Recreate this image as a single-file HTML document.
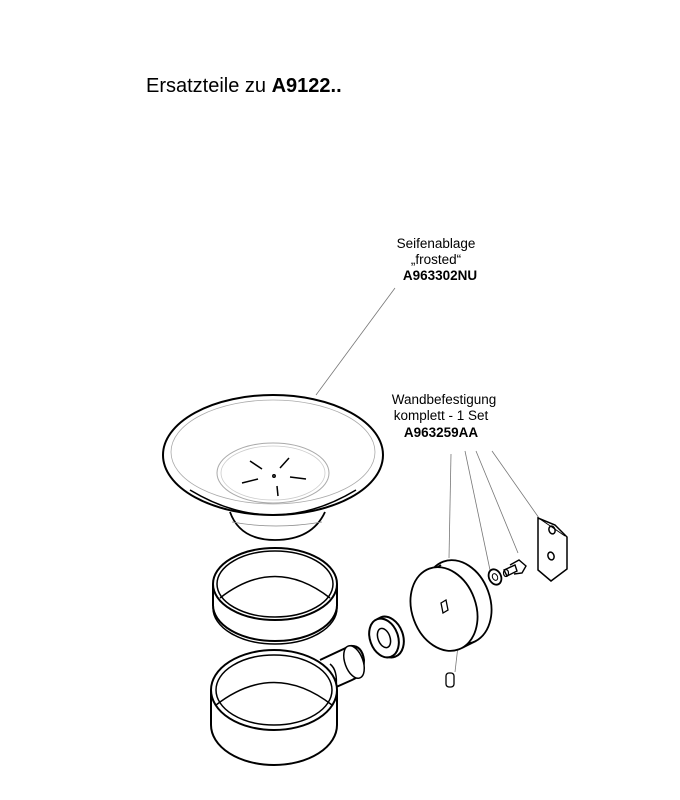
<!DOCTYPE html>
<html><head><meta charset="utf-8"><style>
body{margin:0;background:#fff;width:680px;height:800px;overflow:hidden}
svg{display:block}
text{font-family:"Liberation Sans",sans-serif;fill:#000}
</style></head><body>
<svg width="680" height="800" viewBox="0 0 680 800" xmlns="http://www.w3.org/2000/svg">
<text x="146" y="92" font-size="20">Ersatzteile zu  <tspan font-weight="bold">A9122..</tspan></text>
<g font-size="13.5" text-anchor="middle">
<text x="436" y="248">Seifenablage</text>
<text x="436" y="264">„frosted“</text>
<text x="440" y="280" font-weight="bold">A963302NU</text>
<text x="444" y="404">Wandbefestigung</text>
<text x="441" y="420">komplett  - 1 Set</text>
<text x="441" y="437" font-weight="bold">A963259AA</text>
</g>
<g stroke="#777" stroke-width="0.8" fill="none">
<line x1="395" y1="288" x2="316" y2="395"/>
<line x1="451" y1="454" x2="449" y2="558"/>
<line x1="465" y1="451" x2="490" y2="570"/>
<line x1="476" y1="451" x2="518" y2="553"/>
<line x1="492" y1="451" x2="539" y2="518"/>
<line x1="458" y1="646" x2="455" y2="672"/>
</g>
<g stroke="#000" fill="none" stroke-width="2">
<path d="M230 512 Q240 540 275 540 Q312 540 325 512" stroke-width="1.8"/>
<path d="M232 522 Q275 530 322 522" stroke-width="0.8" stroke="#888"/>
<ellipse cx="273" cy="455" rx="110" ry="60" fill="#fff"/>
<ellipse cx="273" cy="452" rx="102" ry="52" stroke="#aaa" stroke-width="0.8"/>
<path d="M190 490 Q273 540 356 490" stroke-width="1.5"/>
<ellipse cx="273" cy="473" rx="56" ry="30" stroke="#aaa" stroke-width="1"/>
<ellipse cx="273" cy="473" rx="52" ry="27" stroke="#ccc" stroke-width="0.8"/>
<g stroke-width="1.5">
<line x1="250" y1="461" x2="262" y2="469"/>
<line x1="280" y1="468" x2="289" y2="458"/>
<line x1="242" y1="483" x2="258" y2="479"/>
<line x1="290" y1="477" x2="306" y2="479"/>
<line x1="277" y1="486" x2="278" y2="496"/>
<circle cx="274" cy="476" r="1.2"/>
</g>
<ellipse cx="275" cy="605" rx="62" ry="36"/>
<ellipse cx="275" cy="608" rx="62" ry="36" stroke-width="1.5"/>
<rect x="212" y="580" width="126" height="26" fill="#fff" stroke="none"/>
<line x1="213" y1="584" x2="213" y2="606"/>
<line x1="337" y1="584" x2="337" y2="606"/>
<ellipse cx="275" cy="584" rx="62" ry="36" fill="#fff"/>
<ellipse cx="275" cy="584" rx="58" ry="33" stroke-width="1.5"/>
<path d="M220 598 Q275 555 330 598" stroke-width="1.5"/>
<path d="M320 660 L350 646 Q362 645 364 660 Q364 675 352 680 L334 688" fill="#fff"/>
<ellipse cx="354" cy="662" rx="9" ry="17" transform="rotate(-20 354 662)" fill="#fff" stroke-width="1.5"/>
<path d="M330 664 Q338 670 336 688" stroke-width="1.5"/>
<path d="M211 690 L211 725 A63 40 0 0 0 337 725 L337 690" fill="#fff"/>
<ellipse cx="274" cy="690" rx="63" ry="40" fill="#fff"/>
<ellipse cx="274" cy="690" rx="58" ry="35" stroke-width="1.5"/>
<path d="M216 705 Q274 660 332 705" stroke-width="1.5"/>
<ellipse cx="388" cy="637" rx="15" ry="21" transform="rotate(-20 388 637)" fill="#fff"/>
<ellipse cx="384" cy="638" rx="14" ry="20" transform="rotate(-20 384 638)" fill="#fff"/>
<ellipse cx="384" cy="638" rx="6" ry="10" transform="rotate(-20 384 638)" stroke-width="1.5"/>
<!-- disc -->
<ellipse cx="458" cy="602" rx="32" ry="43" transform="rotate(-20 458 602)" fill="#fff" stroke-width="1.8"/>
<path d="M428 571 L442 564 L478 625 L464 645 Z" fill="#fff" stroke="none"/>
<line x1="427" y1="574" x2="441" y2="565" stroke-width="1.8"/>
<line x1="462" y1="648" x2="476" y2="641" stroke-width="1.8"/>
<ellipse cx="444" cy="609" rx="32" ry="43" transform="rotate(-20 444 609)" fill="#fff" stroke-width="1.8"/>
<path d="M441 603 L446 600 L448 610 L443 613 Z" stroke-width="1.3"/>
<rect x="446" y="673" width="8" height="14" rx="3" stroke-width="1.3"/>
<ellipse cx="495" cy="577" rx="6" ry="8" transform="rotate(-25 495 577)" stroke-width="1.8"/>
<ellipse cx="495" cy="577" rx="2.5" ry="3.5" transform="rotate(-25 495 577)" stroke-width="1"/>
<path d="M510 565 L519 560 L526 566 L522 573 L514 574" stroke-width="1.4"/>
<path d="M504 570 L515 565 L517 571 L507 576 Z" stroke-width="1.4"/>
<ellipse cx="506" cy="573" rx="2.5" ry="3.5" stroke-width="1.2"/>
<path d="M538 518 L538 570 L551 581 L567 569 L567 537 L555 525 Z" stroke-width="1.5" fill="#fff"/>
<line x1="540" y1="519" x2="565" y2="536" stroke-width="1"/>
<ellipse cx="552" cy="530" rx="3" ry="4" transform="rotate(-20 552 530)" stroke-width="1.5"/>
<ellipse cx="551" cy="556" rx="3" ry="4" transform="rotate(-20 551 556)" stroke-width="1.5"/>
</g>
</svg>
</body></html>
